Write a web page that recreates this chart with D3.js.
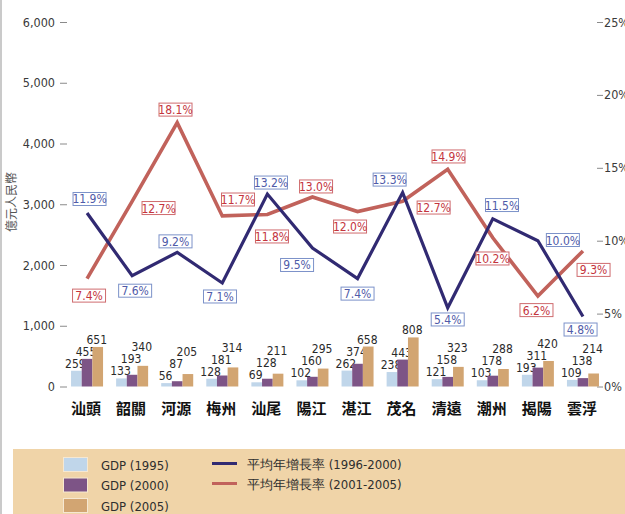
<!DOCTYPE html>
<html>
<head>
<meta charset="utf-8">
<script src="https://cdn.jsdelivr.net/npm/d3@7"></script>
<style>
  body { margin: 0; background: #fff; }
  svg { display: block; }
  .num { font-family: "Liberation Sans Narrow", "Arial Narrow", "DejaVu Sans Condensed", sans-serif; }
</style>
</head>
<body>
<div id="chart"></div>
<script>
  var cities = ['汕頭', '韶關', '河源', '梅州', '汕尾', '陽江', '湛江', '茂名', '清遠', '潮州', '揭陽', '雲浮'];
  var gdp1995 = [259, 133, 56, 128, 69, 102, 262, 238, 121, 103, 193, 109];
  var gdp2000 = [455, 193, 87, 181, 128, 160, 374, 443, 158, 178, 311, 138];
  var gdp2005 = [651, 340, 205, 314, 211, 295, 658, 808, 323, 288, 420, 214];
  var growth9600 = [11.9, 7.6, 9.2, 7.1, 13.2, 9.5, 7.4, 13.3, 5.4, 11.5, 10.0, 4.8];
  var growth0105 = [7.4, 12.7, 18.1, 11.7, 11.8, 13.0, 12.0, 12.7, 14.9, 10.2, 6.2, 9.3];
  var gdpTicks = [0, 1000, 2000, 3000, 4000, 5000, 6000];
  var pctTicks = [0, 5, 10, 15, 20, 25];
  var barKeys = ['GDP (1995)', 'GDP (2000)', 'GDP (2005)'];
  var lineKeys = ['平均年增長率 (1996-2000)', '平均年增長率 (2001-2005)'];

  // label placement (dx, dy from the point)
  var blueOffsets = [[2.5, -14], [3, 15], [-1.7, -11], [-2.3, 13.5], [3.6, -11.5], [-15.4, 17],
                     [0, 15], [-13, -13], [0, 11.7], [9.2, -13.8], [25, -0.7], [-2.4, 13]];
  var redOffsets = [[2, 17], [26.4, 6.7], [-1.7, -13], [15.7, -16.4], [4.6, 22], [3.6, -10.5],
                    [-7.5, 15], [31, 6.2], [0.8, -12.8], [-0.3, 20.7], [-1.4, 14], [10.6, 19]];

  var width = 625, height = 514;
  var barColors = ['#c0d6ea', '#7d5486', '#d2a572'];
  var blueLine = '#312a72', redLine = '#c1625b';

  var svg = d3.select('#chart').append('svg')
    .attr('width', width)
    .attr('height', height);

  svg.append('line')
    .attr('x1', 1).attr('x2', 1).attr('y1', 0).attr('y2', height)
    .style('stroke', '#b8b8b8').style('stroke-width', 1.5);

  var x = d3.scaleBand().domain(cities).range([64.5, 605.5]).paddingInner(0.29).paddingOuter(0.145);
  var xSub = d3.scaleBand().domain([0, 1, 2]).range([0, x.bandwidth()]);
  var y = d3.scaleLinear().domain([0, 6000]).range([386.5, 22]);
  var yPct = d3.scaleLinear().domain([0, 25]).range([386.5, 22]);

  function cx(c) { return x(c) + x.bandwidth() / 2; }

  // axes
  var leftAxis = svg.append('g')
    .attr('transform', 'translate(67,0)')
    .call(d3.axisLeft(y).tickValues(gdpTicks).tickSize(7).tickPadding(5).tickFormat(d3.format(',')));
  var rightAxis = svg.append('g')
    .attr('transform', 'translate(597,0)')
    .call(d3.axisRight(yPct).tickValues(pctTicks).tickSize(6).tickPadding(1).tickFormat(function(d) { return d + '%'; }));
  [leftAxis, rightAxis].forEach(function(a) {
    a.select('.domain').remove();
    a.selectAll('line').style('stroke', '#8a8a8a');
    a.selectAll('text').attr('class', 'num')
      .style('font-size', '12.5px').style('fill', '#3a3a3a');
  });

  svg.append('text')
    .attr('transform', 'translate(16,202) rotate(-90)')
    .attr('text-anchor', 'middle')
    .style('font-family', '"Noto Sans CJK TC", sans-serif')
    .style('font-size', '12px')
    .style('fill', '#555')
    .text('億元人民幣');

  // bars
  var series = [gdp1995, gdp2000, gdp2005];
  var groups = svg.selectAll('g.city')
    .data(cities)
    .enter()
    .append('g')
    .attr('class', 'city')
    .attr('transform', function(d) { return 'translate(' + x(d) + ',0)'; });

  groups.each(function(c, i) {
    var g = d3.select(this);
    var prev = null;
    series.forEach(function(s, k) {
      var v = s[i];
      g.append('rect')
        .attr('x', xSub(k))
        .attr('width', xSub.bandwidth())
        .attr('y', y(v))
        .attr('height', y(0) - y(v))
        .style('fill', barColors[k]);
      var base = y(v) - 3;
      if (k === 0) base = Math.min(base, 380);
      if (prev !== null) base = Math.min(base, prev - 12);
      prev = base;
      g.append('text')
        .attr('class', 'num')
        .attr('x', xSub(k) + xSub.bandwidth() / 2 - 1)
        .attr('y', base)
        .attr('text-anchor', 'middle')
        .style('font-size', '12px')
        .style('fill', '#2a2a2a')
        .text(v);
    });
  });

  // category labels
  svg.selectAll('text.cat')
    .data(cities)
    .enter()
    .append('text')
    .attr('class', 'cat')
    .attr('x', function(d) { return cx(d) - 1; })
    .attr('y', 414)
    .attr('text-anchor', 'middle')
    .style('font-family', '"Noto Sans CJK TC", sans-serif')
    .style('font-weight', 'bold')
    .style('font-size', '15px')
    .style('fill', '#111')
    .text(function(d) { return d; });

  // lines
  var line = d3.line()
    .x(function(d, i) { return cx(cities[i]); })
    .y(function(d) { return yPct(d); });

  svg.append('path')
    .datum(growth0105)
    .attr('d', line)
    .style('fill', 'none')
    .style('stroke', redLine)
    .style('stroke-width', 3.6);

  svg.append('path')
    .datum(growth9600)
    .attr('d', line)
    .style('fill', 'none')
    .style('stroke', blueLine)
    .style('stroke-width', 3.2);

  function boxLabels(values, offsets, border, color) {
    var lab = svg.append('g').selectAll('g')
      .data(values)
      .enter()
      .append('g')
      .attr('transform', function(d, i) {
        return 'translate(' + (cx(cities[i]) + offsets[i][0]) + ',' + (yPct(d) + offsets[i][1]) + ')';
      });
    lab.append('rect')
      .attr('x', -16.5).attr('y', -6.5)
      .attr('width', 33).attr('height', 13)
      .style('fill', '#fff')
      .style('stroke', border)
      .style('stroke-width', 1);
    lab.append('text')
      .attr('class', 'num')
      .attr('y', 4.5)
      .attr('text-anchor', 'middle')
      .style('font-size', '12px')
      .style('fill', color)
      .text(function(d) { return d.toFixed(1) + '%'; });
  }
  boxLabels(growth9600, blueOffsets, '#7c92c9', '#4f5aa8');
  boxLabels(growth0105, redOffsets, '#cf6b6e', '#c4343d');

  // legend
  var legend = svg.append('g');
  legend.append('rect')
    .attr('x', 13).attr('y', 449)
    .attr('width', width - 13).attr('height', height - 449)
    .style('fill', '#f0d4a8');

  barKeys.forEach(function(k, i) {
    legend.append('rect')
      .attr('x', 63.5).attr('y', 457.5 + i * 20.5)
      .attr('width', 24).attr('height', 14)
      .style('fill', barColors[i])
      .style('stroke', '#f6e8d2')
      .style('stroke-width', 1);
    legend.append('text')
      .attr('class', 'num')
      .attr('x', 101).attr('y', 469.5 + i * 20.5)
      .style('font-size', '13px')
      .style('fill', '#2e2e2e')
      .text(k);
  });

  [blueLine, redLine].forEach(function(col, i) {
    legend.append('line')
      .attr('x1', 212).attr('x2', 237)
      .attr('y1', 463.5 + i * 20).attr('y2', 463.5 + i * 20)
      .style('stroke', col)
      .style('stroke-width', 3);
    legend.append('text')
      .attr('class', 'num')
      .attr('x', 247).attr('y', 468.5 + i * 20)
      .style('font-size', '13px')
      .style('fill', '#2e2e2e')
      .text(lineKeys[i]);
  });
</script>
</body>
</html>
